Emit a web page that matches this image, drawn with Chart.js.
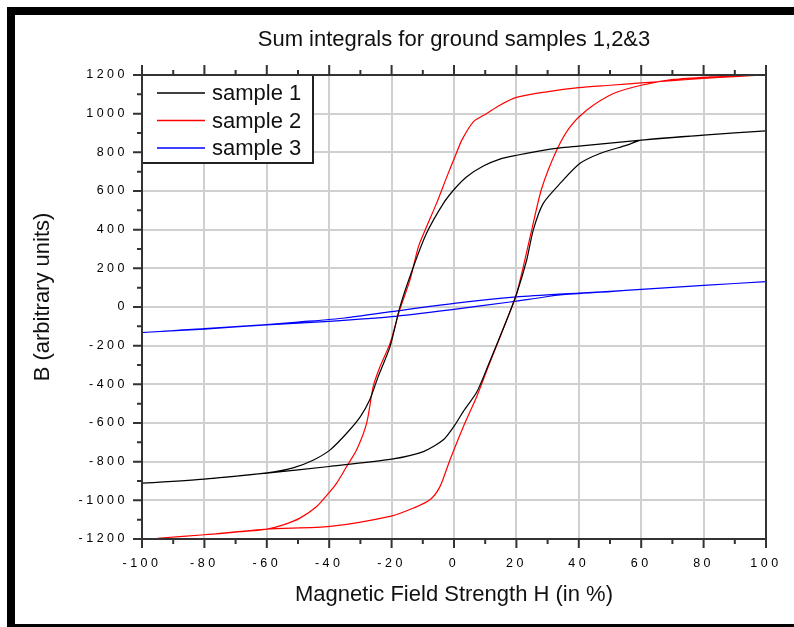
<!DOCTYPE html>
<html>
<head>
<meta charset="utf-8">
<script src="https://cdn.jsdelivr.net/npm/chart.js@4.4.0/dist/chart.umd.min.js"></script>
<style>
html, body { margin: 0; padding: 0; background: #fff; }
</style>
</head>
<body>
<canvas id="loops" width="794" height="627"></canvas>
<script>
// each loop: upper branch (H falling from +max) followed by lower branch (H rising)
const sample1H = [100, 80, 60, 40, 34, 27.6, 20.1, 14.7, 9.4, 4.1, 0.3, -3.4, -8.8, -13, -17.3, -20.5, -24.3, -27, -30, -34.4, -39.7, -45, -51.6, -60, -80, -100,
                  -80, -60, -40, -20, -9.8, -3.4, 0.3, 3, 7.3, 11, 16.9, 20.1, 23.3, 25.4, 28.6, 34, 40.4, 46.8, 55.4, 60, 80, 100]
const sample1B = [911, 889, 863, 832, 823, 808, 785, 765, 729, 674, 613, 536, 381, 208, 2, -205, -360, -480, -567, -653, -739, -791, -832, -858, -890, -911,
                  -890, -859, -825, -787, -748, -687, -610, -540, -440, -300, -67, 70, 243, 398, 536, 639, 743, 794, 837, 863, 889, 911]

const sample2H = [100, 90, 80, 70, 60, 50, 40, 29.7, 20, 14.7, 10.5, 6.2, 2.5, 0.3, -2.3, -5.6, -8.8, -11.4, -14.1, -17.5, -20.5, -23.7, -25.9, -28, -31.2, -34.4, -37.6, -39.7, -44, -49.4, -54.7, -60, -70, -80, -95,
                  -80, -60, -39.7, -19.8, -13, -7.7, -4.5, -1.3, 3, 7.3, 11, 16.9, 20.1, 24.9, 28.1, 32.9, 37.2, 42.5, 51.1, 60, 70.3, 82.1, 95]
const sample2B = [1200, 1192, 1182, 1171, 1159, 1147, 1135, 1113, 1084, 1044, 1001, 958, 863, 777, 673, 536, 415, 312, 140, -20, -188, -308, -412, -601, -739, -825, -911, -954, -1032, -1092, -1127, -1149, -1165, -1178, -1196,
                  -1178, -1149, -1135, -1080, -1040, -997, -929, -791, -619, -463, -308, -67, 70, 398, 613, 811, 932, 1018, 1104, 1147, 1177, 1190, 1198]

const sample3H = [100, 80, 60, 40, 20, 0, -20, -35, -50, -60, -80, -100,
                  -80, -60, -40, -20, 0, 18, 34, 50, 60, 80, 100]
const sample3B = [131, 112, 91, 72, 52, 19, -24, -57, -78, -91, -112, -132,
                  -114, -93, -74, -50, -12, 26, 62, 80, 91, 112, 131]

const seriesNames = ["sample 1", "sample 2", "sample 3"]
const seriesColors = ["#000000", "#ff0000", "#0000ff"]

const xTickValues = [-100, -80, -60, -40, -20, 0, 20, 40, 60, 80, 100]
const yTickValues = [-1200, -1000, -800, -600, -400, -200, 0, 200, 400, 600, 800, 1000, 1200]

const chartTitle = "Sum integrals for ground samples 1,2&3"
const xTitle = "Magnetic Field Strength H (in %)"
const yTitle = "B (arbitrary units)"

const textFont = '"Liberation Sans", Arial, sans-serif'

function toPoints(hs, bs) {
    return hs.map((h, i) => ({x: h, y: bs[i]}))
}

// black frame, axis box with minor ticks, boxed legend and the titles
const originLook = {
    id: "originLook",
    beforeDraw(chart) {
        const ctx = chart.ctx
        ctx.save()
        ctx.fillStyle = "#fff"
        ctx.fillRect(0, 0, chart.width, chart.height)
        ctx.fillStyle = "#000"
        ctx.fillRect(7, 7, chart.width - 7, 8)
        ctx.fillRect(7, 7, 8, chart.height - 7)
        ctx.fillRect(7, chart.height - 3, chart.width - 7, 3)
        ctx.restore()
    },
    afterDatasetsDraw(chart) {
        const {ctx, chartArea: {left, top, right, bottom}, scales: {x, y}} = chart
        ctx.save()

        // legend box in the top left corner
        ctx.fillStyle = "#fff"
        ctx.fillRect(left, top, 171, 88)
        ctx.strokeStyle = "#222"
        ctx.lineWidth = 2
        ctx.strokeRect(left, top, 171, 88)
        ctx.font = "22px " + textFont
        ctx.textBaseline = "middle"
        ctx.textAlign = "left"
        chart.data.datasets.forEach((ds, i) => {
            const ly = top + 18 + i * 27.5
            ctx.strokeStyle = ds.borderColor
            ctx.lineWidth = 1.5
            ctx.beginPath()
            ctx.moveTo(left + 15, ly)
            ctx.lineTo(left + 63, ly)
            ctx.stroke()
            ctx.fillStyle = "#111"
            ctx.fillText(ds.label, left + 70, ly + 1)
        })

        // axis box and tick marks
        ctx.strokeStyle = "#333"
        ctx.lineWidth = 2
        ctx.strokeRect(left, top, right - left, bottom - top)
        ctx.beginPath()
        const xt = x.ticks.map(t => t.value)
        xt.forEach((v, i) => {
            const px = x.getPixelForValue(v)
            ctx.moveTo(px, bottom); ctx.lineTo(px, bottom + 9)
            ctx.moveTo(px, top); ctx.lineTo(px, top - 10)
            if (i < xt.length - 1) {
                const mx = x.getPixelForValue((v + xt[i + 1]) / 2)
                ctx.moveTo(mx, bottom); ctx.lineTo(mx, bottom + 5)
                ctx.moveTo(mx, top); ctx.lineTo(mx, top - 5)
            }
        })
        const yt = y.ticks.map(t => t.value)
        yt.forEach((v, i) => {
            const py = y.getPixelForValue(v)
            ctx.moveTo(left, py); ctx.lineTo(left - 9, py)
            if (i < yt.length - 1) {
                const my = y.getPixelForValue((v + yt[i + 1]) / 2)
                ctx.moveTo(left, my); ctx.lineTo(left - 5, my)
            }
        })
        ctx.stroke()
        ctx.restore()

        // tick labels are drawn right after this (ticks.z = 1), spaced out like the original
        ctx.letterSpacing = "3.5px"
    },
    afterDraw(chart) {
        const {ctx, chartArea: {left, top, right, bottom}} = chart
        ctx.letterSpacing = "0px"
        ctx.save()
        ctx.fillStyle = "#111"
        ctx.font = "22px " + textFont
        ctx.textAlign = "center"
        ctx.textBaseline = "middle"
        ctx.fillText(chartTitle, (left + right) / 2, 40)
        ctx.fillText(xTitle, (left + right) / 2, 595)
        ctx.translate(43, 297)
        ctx.rotate(-Math.PI / 2)
        ctx.fillText(yTitle, 0, 0)
        ctx.restore()
    }
}

const ctx = document.getElementById("loops").getContext("2d")
const loopChart = new Chart(ctx, {
    type: "scatter",
    data: {
        datasets: [
            {label: seriesNames[0], data: toPoints(sample1H, sample1B), borderColor: seriesColors[0]},
            {label: seriesNames[1], data: toPoints(sample2H, sample2B), borderColor: seriesColors[1]},
            {label: seriesNames[2], data: toPoints(sample3H, sample3B), borderColor: seriesColors[2]}
        ]
    },
    options: {
        responsive: false,
        animation: false,
        devicePixelRatio: 1,
        layout: {padding: {left: 60, top: 75, right: 28, bottom: 30}},
        datasets: {
            scatter: {showLine: true, pointRadius: 0, borderWidth: 1.2, tension: 0.25, fill: false}
        },
        scales: {
            x: {
                type: "linear",
                min: -100,
                max: 100,
                afterBuildTicks: s => { s.ticks = xTickValues.map(v => ({value: v})) },
                afterFit: s => { s.height = 58 },
                grid: {color: "#d0d0d0", lineWidth: 2, drawTicks: false},
                border: {display: false},
                ticks: {z: 1, padding: 17, color: "#000", font: {family: textFont, size: 12.5}, maxRotation: 0, autoSkip: false,
                        callback: v => String(v)}
            },
            y: {
                type: "linear",
                min: -1200,
                max: 1200,
                afterBuildTicks: s => { s.ticks = yTickValues.map(v => ({value: v})) },
                afterFit: s => { s.width = 82 },
                grid: {color: "#d0d0d0", lineWidth: 2, drawTicks: false},
                border: {display: false},
                ticks: {z: 1, padding: 14, color: "#000", font: {family: textFont, size: 12.5}, autoSkip: false,
                        callback: v => String(v)}
            }
        },
        plugins: {
            legend: {display: false},
            title: {display: false},
            tooltip: {enabled: false}
        }
    },
    plugins: [originLook]
})
</script>
</body>
</html>
